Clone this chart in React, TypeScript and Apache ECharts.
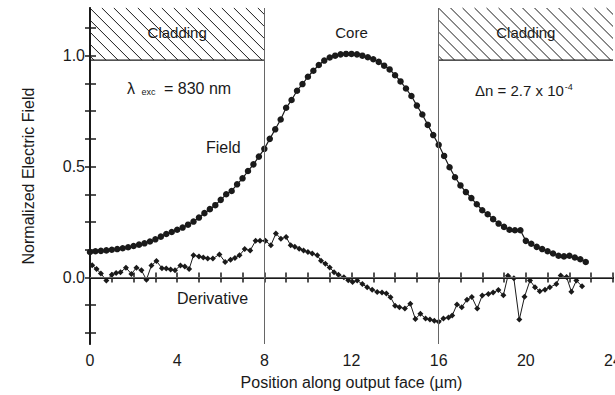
import React, { useEffect, useRef } from "react";
import * as echarts from "echarts";

// Axis ranges and tick positions
const xRange = [0, 24];
const yRange = [-0.3, 1.215];
const xTickLabels = [0, 4, 8, 12, 16, 20, 24];
const xTicks = [0, 1, 2, 3, 4, 5, 6, 7, 8, 9, 10, 11, 12, 13, 14, 15, 16, 17, 18, 19, 20, 21, 22, 23, 24];
const yTickLabels = [0, 0.5, 1.0];
const yTicks = [-0.25, -0.125, 0, 0.125, 0.25, 0.375, 0.5, 0.625, 0.75, 0.875, 1.0, 1.125];

// Waveguide regions along the output face (µm)
const regionNames = ["Cladding", "Core", "Cladding"];
const regionFrom = [0, 8, 16];
const regionTo = [8, 16, 24];
const regionHatched = [true, false, true];
const claddingEdge = 0.98;
const regionLabelY = 1.104;
const boundaries = [8, 16];

// Measured normalized field profile: [position µm, field]
const field: [number, number][] = [
  [0, 0.115], [0.25, 0.118], [0.5, 0.12], [0.75, 0.122], [1.0, 0.125], [1.25, 0.128],
  [1.5, 0.132], [1.75, 0.136], [2.0, 0.142], [2.25, 0.148], [2.5, 0.154], [2.75, 0.162],
  [3.0, 0.172], [3.25, 0.184], [3.5, 0.196], [3.75, 0.205], [4.0, 0.215], [4.25, 0.225],
  [4.5, 0.238], [4.75, 0.252], [5.0, 0.27], [5.25, 0.29], [5.5, 0.308], [5.75, 0.326],
  [6.0, 0.35], [6.25, 0.375], [6.5, 0.39], [6.75, 0.42], [7.0, 0.447], [7.25, 0.48],
  [7.5, 0.51], [7.75, 0.545], [8.0, 0.58], [8.25, 0.625], [8.5, 0.668], [8.75, 0.712],
  [9.0, 0.765], [9.25, 0.8], [9.5, 0.842], [9.75, 0.872], [10.0, 0.905], [10.25, 0.932],
  [10.5, 0.958], [10.75, 0.978], [11.0, 0.992], [11.25, 1.0], [11.5, 1.006], [11.75, 1.008],
  [12.0, 1.008], [12.25, 1.006], [12.5, 1.0], [12.75, 0.993], [13.0, 0.984], [13.25, 0.972],
  [13.5, 0.955], [13.75, 0.938], [14.0, 0.912], [14.25, 0.884], [14.5, 0.852], [14.75, 0.818],
  [15.0, 0.775], [15.25, 0.735], [15.5, 0.688], [15.75, 0.642], [16.0, 0.598], [16.25, 0.548],
  [16.5, 0.497], [16.75, 0.452], [17.0, 0.415], [17.25, 0.385], [17.5, 0.358], [17.75, 0.33],
  [18.0, 0.303], [18.25, 0.285], [18.5, 0.263], [18.75, 0.243], [19.0, 0.228], [19.25, 0.215],
  [19.5, 0.213], [19.75, 0.213], [20.0, 0.165], [20.25, 0.152], [20.5, 0.138], [20.75, 0.128],
  [21.0, 0.118], [21.25, 0.108], [21.5, 0.098], [21.75, 0.095], [22.0, 0.098], [22.25, 0.09],
  [22.5, 0.082], [22.75, 0.07],
];

// Spatial derivative of the field: [position µm, derivative]
const derivative: [number, number][] = [
  [0.1, 0.055], [0.3, 0.038], [0.5, 0.018], [0.75, -0.014], [1.0, 0.012], [1.2, 0.02],
  [1.4, 0.024], [1.65, 0.044], [1.9, 0.016], [2.13, 0.044], [2.36, 0.032], [2.59, -0.01],
  [2.82, 0.054], [3.05, 0.074], [3.3, 0.042], [3.5, 0.04], [3.7, 0.036], [3.9, 0.032],
  [4.15, 0.054], [4.35, 0.05], [4.55, 0.038], [4.75, 0.1], [5.0, 0.095], [5.2, 0.09],
  [5.4, 0.085], [5.64, 0.085], [5.94, 0.104], [6.2, 0.07], [6.45, 0.08], [6.65, 0.088],
  [6.86, 0.1], [7.1, 0.128], [7.35, 0.122], [7.6, 0.165], [7.8, 0.166], [8.05, 0.165],
  [8.3, 0.145], [8.53, 0.198], [8.76, 0.175], [9.0, 0.182], [9.21, 0.145], [9.4, 0.138],
  [9.6, 0.13], [9.8, 0.122], [10.0, 0.115], [10.2, 0.108], [10.43, 0.1], [10.6, 0.075],
  [10.8, 0.062], [11.0, 0.045], [11.2, 0.024], [11.4, 0.012], [11.65, 0.001], [11.85, -0.012],
  [12.05, -0.02], [12.26, -0.014], [12.5, -0.03], [12.72, -0.044], [12.95, -0.055], [13.18, -0.066],
  [13.4, -0.068], [13.6, -0.072], [13.79, -0.089], [14.0, -0.127], [14.2, -0.134], [14.45, -0.14],
  [14.7, -0.119], [14.93, -0.187], [15.16, -0.164], [15.4, -0.185], [15.6, -0.19], [15.8, -0.195],
  [16.0, -0.2], [16.22, -0.185], [16.45, -0.18], [16.62, -0.172], [16.84, -0.122], [17.06, -0.134],
  [17.3, -0.1], [17.52, -0.088], [17.77, -0.14], [18.0, -0.081], [18.28, -0.074], [18.5, -0.068],
  [18.74, -0.057], [18.97, -0.08], [19.18, 0.008], [19.45, -0.004], [19.7, -0.19], [19.94, -0.087],
  [20.19, -0.014], [20.42, -0.044], [20.64, -0.062], [20.88, -0.055], [21.1, -0.044], [21.4, -0.03],
  [21.6, 0.009], [21.87, 0.002], [22.09, -0.064], [22.32, -0.014], [22.58, -0.04],
];

const FONT = "'Liberation Sans', Arial, Helvetica, sans-serif";
const INK = "#1a1a1a";

export default function App() {
  const ref = useRef<HTMLDivElement>(null);

  useEffect(() => {
    if (!ref.current) return;
    const chart = echarts.init(ref.current, undefined, { renderer: "svg" });

    const hatchData = regionFrom
      .map((f, i) => [f, regionTo[i], claddingEdge, yRange[1]])
      .filter((_, i) => regionHatched[i]);
    const labelData = regionFrom.map((f, i) => [(f + regionTo[i]) / 2, regionLabelY, i]);

    const option: any = {
      animation: false,
      backgroundColor: "#ffffff",
      grid: { left: 90, right: 2, top: 8, bottom: 51, containLabel: false, outerBoundsMode: "none" },
      xAxis: [
        {
          type: "value",
          position: "bottom",
          min: xRange[0],
          max: xRange[1],
          axisLine: { show: true, lineStyle: { color: INK, width: 2 } },
          axisTick: { show: true, inside: true, length: 5, customValues: xTicks, lineStyle: { color: INK, width: 1.5 } },
          axisLabel: {
            show: true,
            customValues: xTickLabels,
            margin: 8,
            color: INK,
            fontSize: 16,
            fontFamily: FONT,
            hideOverlap: false,
          },
          splitLine: { show: false },
          name: "Position along output face (µm)",
          nameLocation: "middle",
          nameGap: 30,
          nameTextStyle: { color: INK, fontSize: 16, fontFamily: FONT },
        },
        {
          type: "value",
          position: "top",
          min: xRange[0],
          max: xRange[1],
          axisLine: { show: true, lineStyle: { color: INK, width: 2 } },
          axisTick: { show: true, inside: true, length: 5, customValues: xTicks, lineStyle: { color: INK, width: 1.5 } },
          axisLabel: { show: false },
          splitLine: { show: false },
        },
      ],
      yAxis: [
        {
          type: "value",
          position: "left",
          min: yRange[0],
          max: yRange[1],
          axisLine: { show: true, lineStyle: { color: INK, width: 2 } },
          axisTick: { show: true, inside: true, length: 6, customValues: yTicks, lineStyle: { color: INK, width: 1.5 } },
          axisLabel: {
            show: true,
            customValues: yTickLabels,
            formatter: (v: number) => v.toFixed(1),
            margin: 5,
            color: INK,
            fontSize: 16,
            fontFamily: FONT,
          },
          splitLine: { show: false },
          name: "Normalized Electric Field",
          nameLocation: "middle",
          nameGap: 54,
          nameTextStyle: { color: INK, fontSize: 16, fontFamily: FONT },
        },
        {
          type: "value",
          position: "right",
          min: yRange[0],
          max: yRange[1],
          axisLine: { show: true, lineStyle: { color: INK, width: 1.5 } },
          axisTick: { show: true, inside: true, length: 5, customValues: yTicks, lineStyle: { color: INK, width: 1.5 } },
          axisLabel: { show: false },
          splitLine: { show: false },
        },
      ],
      series: [
        {
          // hatched cladding bands
          type: "custom",
          xAxisIndex: 0,
          yAxisIndex: 0,
          silent: true,
          z: 1,
          encode: { x: [0, 1], y: [2, 3] },
          data: hatchData,
          renderItem: (_params: any, api: any) => {
            const p0 = api.coord([api.value(0), api.value(2)]);
            const p1 = api.coord([api.value(1), api.value(3)]);
            const left = p0[0];
            const right = p1[0];
            const bottom = p0[1];
            const top = p1[1];
            const step = 12;
            const children: any[] = [];
            for (let k = left - bottom + 4; k <= right - top; k += step) {
              const ya = Math.max(top, left - k);
              const yb = Math.min(bottom, right - k);
              if (yb - ya < 0.5) continue;
              children.push({
                type: "line",
                shape: { x1: ya + k, y1: ya, x2: yb + k, y2: yb },
                style: { stroke: INK, lineWidth: 1 },
              });
            }
            children.push({
              type: "line",
              shape: { x1: left, y1: bottom, x2: right, y2: bottom },
              style: { stroke: INK, lineWidth: 1.3 },
            });
            return { type: "group", children };
          },
        },
        {
          // region names
          type: "custom",
          xAxisIndex: 0,
          yAxisIndex: 0,
          silent: true,
          z: 3,
          encode: { x: 0, y: 1 },
          data: labelData,
          renderItem: (_params: any, api: any) => {
            const p = api.coord([api.value(0), api.value(1)]);
            const idx = api.value(2);
            return {
              type: "text",
              style: {
                text: regionNames[idx],
                x: p[0],
                y: p[1],
                textAlign: "center",
                textVerticalAlign: "middle",
                fill: INK,
                fontSize: 15,
                fontFamily: FONT,
              },
            };
          },
        },
        {
          name: "Field",
          type: "line",
          data: field,
          z: 4,
          symbol: "circle",
          symbolSize: 6.5,
          showSymbol: true,
          itemStyle: { color: INK },
          lineStyle: { color: INK, width: 1.2 },
          markLine: {
            silent: true,
            symbol: "none",
            label: { show: false },
            lineStyle: { color: "#666", width: 1, type: "solid" },
            data: [...boundaries.map((b) => ({ xAxis: b })), { yAxis: 0 }],
          },
        },
        {
          name: "Derivative",
          type: "line",
          data: derivative,
          z: 4,
          symbol: "diamond",
          symbolSize: 6,
          showSymbol: true,
          itemStyle: { color: INK },
          lineStyle: { color: INK, width: 1 },
        },
      ],
      graphic: [
        {
          type: "text",
          left: 127,
          top: 80,
          style: {
            text: "λ{sub| exc} = 830 nm",
            fill: INK,
            fontSize: 16,
            fontFamily: FONT,
            rich: {
              sub: { fontSize: 9, fontFamily: FONT, fill: INK, verticalAlign: "bottom", padding: [8, 4, 0, 4] },
            },
          },
        },
        {
          type: "text",
          left: 475,
          top: 82,
          style: {
            text: "Δn = 2.7 x 10{sup|-4}",
            fill: INK,
            fontSize: 15,
            fontFamily: FONT,
            rich: {
              sup: { fontSize: 9, fontFamily: FONT, fill: INK, verticalAlign: "top", padding: [0, 0, 8, 1] },
            },
          },
        },
        {
          type: "text",
          left: 206,
          top: 139,
          style: { text: "Field", fill: INK, fontSize: 16, fontFamily: FONT },
        },
        {
          type: "text",
          left: 177,
          top: 290,
          style: { text: "Derivative", fill: INK, fontSize: 16, fontFamily: FONT },
        },
      ],
    };

    chart.setOption(option);
    return () => chart.dispose();
  }, []);

  return (
    <div
      ref={ref}
      style={{ position: "fixed", left: 0, top: 0, width: 615, height: 395, background: "#fff" }}
    />
  );
}
